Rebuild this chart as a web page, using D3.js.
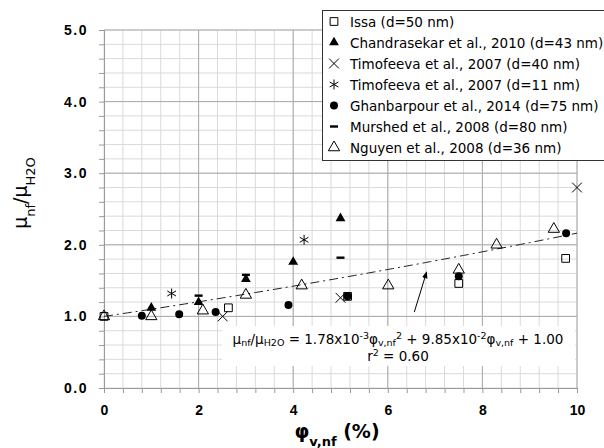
<!doctype html>
<html lang="en">
<head>
<meta charset="utf-8">
<title>Relative viscosity vs volume fraction</title>
<script src="https://cdn.jsdelivr.net/npm/d3@7"></script>
<style>
  body { margin: 0; background: #fff; }
  svg { font-family: "DejaVu Sans", Verdana, sans-serif; }
  .axis path, .axis line { stroke: #999; }
  .axis text { font-weight: bold; font-size: 14px; fill: #000; }
</style>
</head>
<body>
<svg width="604" height="448"></svg>
<script>
// series: [phi (%), mu_nf / mu_H2O]
var issa        = [[0, 1.0], [2.63, 1.12], [5.15, 1.28], [7.5, 1.46], [9.76, 1.81]];
var chandra     = [[1, 1.12], [2, 1.2], [3, 1.52], [4, 1.76], [5, 2.37]];
var timo40      = [[2.51, 1.0], [5.0, 1.26], [10.0, 2.80]];
var timo11      = [[1.43, 1.32], [4.23, 2.07]];
var ghanbar     = [[0.8, 1.01], [1.59, 1.03], [2.36, 1.06], [3.9, 1.16], [5.15, 1.28], [7.5, 1.56], [9.77, 2.16]];
var murshed     = [[2, 1.29], [3, 1.58], [5, 1.82]];
var nguyen      = [[0, 1.0], [1, 1.0], [2.09, 1.08], [3.0, 1.30], [4.18, 1.43], [6.01, 1.43], [7.5, 1.65], [8.3, 2.0], [9.51, 2.22]];

var legendLabels = [
  "Issa (d=50 nm)",
  "Chandrasekar et al., 2010 (d=43 nm)",
  "Timofeeva et al., 2007 (d=40 nm)",
  "Timofeeva et al., 2007 (d=11 nm)",
  "Ghanbarpour et al., 2014 (d=75 nm)",
  "Murshed et al., 2008 (d=80 nm)",
  "Nguyen et al., 2008 (d=36 nm)"
];

// trend: mu = a*phi^2 + b*phi + c
var fitA = 1.78e-3, fitB = 9.85e-2, fitC = 1.00;
var arrowFrom = [6.56, 1.06], arrowTo = [6.82, 1.62];

var svg = d3.select("svg");
var x = d3.scaleLinear().domain([0, 10]).range([104, 577]);
var y = d3.scaleLinear().domain([0, 5]).range([388, 30]);

// grid
var grid = svg.append("g");
grid.selectAll(".vmin").data(d3.range(0, 10.01, 0.4)).enter().append("line")
  .attr("x1", d => x(d)).attr("x2", d => x(d)).attr("y1", y(0)).attr("y2", y(5))
  .attr("stroke", "#dadada");
grid.selectAll(".hmin").data(d3.range(0, 5.01, 0.2)).enter().append("line")
  .attr("x1", x(0)).attr("x2", x(10)).attr("y1", d => y(d)).attr("y2", d => y(d))
  .attr("stroke", "#dadada");
grid.selectAll(".vmaj").data(d3.range(2, 10.01, 2)).enter().append("line")
  .attr("x1", d => x(d)).attr("x2", d => x(d)).attr("y1", y(0)).attr("y2", y(5))
  .attr("stroke", "#aaa");
grid.selectAll(".hmaj").data(d3.range(1, 5.01, 1)).enter().append("line")
  .attr("x1", x(0)).attr("x2", x(10)).attr("y1", d => y(d)).attr("y2", d => y(d))
  .attr("stroke", "#aaa");

// axes
svg.append("g").attr("class", "axis").attr("transform", "translate(0," + y(0) + ")")
  .call(d3.axisBottom(x).tickValues(d3.range(0, 10.01, 0.4)).tickSizeOuter(0).tickSize(5).tickPadding(12)
    .tickFormat(d => (Math.abs(d / 2 - Math.round(d / 2)) < 1e-6) ? d3.format("d")(Math.round(d)) : ""));
svg.append("g").attr("class", "axis").attr("transform", "translate(" + x(0) + ",0)")
  .call(d3.axisLeft(y).tickValues(d3.range(0, 5.01, 0.2)).tickSizeOuter(0).tickSize(5).tickPadding(11)
    .tickFormat(d => (Math.abs(d - Math.round(d)) < 1e-6) ? d3.format(".1f")(d) : ""))
  .selectAll("text").style("letter-spacing", "1.5px");

// trend line
var line = d3.line().x(d => x(d)).y(d => y(fitA * d * d + fitB * d + fitC));
svg.append("path").datum(d3.range(0, 10.001, 0.1)).attr("d", line)
  .attr("fill", "none").attr("stroke", "#222").attr("stroke-width", 1)
  .attr("stroke-dasharray", "9,4,2,4");

// marker styles
var styles = [
  { data: issa,    sym: d3.symbolSquare,   size: 60, fill: "none", stroke: "#000" },
  { data: chandra, sym: d3.symbolTriangle, size: 42, fill: "#000", stroke: "none" },
  { data: timo40,  sym: d3.symbolTimes,    size: 64, fill: "none", stroke: "#000" },
  { data: timo11,  sym: d3.symbolAsterisk, size: 70, fill: "none", stroke: "#000" },
  { data: ghanbar, sym: d3.symbolCircle,   size: 50, fill: "#000", stroke: "none" },
  { data: murshed, sym: "dash" },
  { data: nguyen,  sym: d3.symbolTriangle, size: 55, fill: "none", stroke: "#000" }
];

function drawMarker(g, s) {
  if (s.sym === "dash") {
    g.append("rect").attr("x", -4).attr("y", -1.2).attr("width", 8).attr("height", 2.4).attr("fill", "#000");
  } else {
    g.append("path").attr("d", d3.symbol().type(s.sym).size(s.size)())
      .attr("fill", s.fill).attr("stroke", s.stroke).attr("stroke-width", 1);
  }
}

styles.forEach(function(s) {
  s.data.forEach(function(d) {
    drawMarker(svg.append("g").attr("transform", "translate(" + x(d[0]) + "," + y(d[1]) + ")"), s);
  });
});

// arrow
svg.append("defs").append("marker").attr("id", "ah").attr("viewBox", "0 0 10 10")
  .attr("refX", 9).attr("refY", 5).attr("markerWidth", 7).attr("markerHeight", 7).attr("orient", "auto")
  .append("path").attr("d", "M0,1 L10,5 L0,9 z").attr("fill", "#000");
svg.append("line").attr("x1", x(arrowFrom[0])).attr("y1", y(arrowFrom[1]))
  .attr("x2", x(arrowTo[0])).attr("y2", y(arrowTo[1]))
  .attr("stroke", "#000").attr("marker-end", "url(#ah)");

// equation box
svg.append("rect").attr("x", 222).attr("y", 326).attr("width", 353).attr("height", 40).attr("fill", "#fff");
var eq = svg.append("text").attr("x", 398).attr("y", 344).attr("text-anchor", "middle")
  .style("font-size", "13.5px");
function part(t, txt, kind) {
  var ts = t.append("tspan").text(txt);
  if (kind === "sub") ts.attr("baseline-shift", "-2").style("font-size", "9.5px");
  if (kind === "sup") ts.attr("baseline-shift", "5").style("font-size", "9.5px");
}
[["μ"], ["nf", "sub"], ["/μ"], ["H2O", "sub"], [" = 1.78x10"], ["-3", "sup"], ["φ"], ["v,nf", "sub"], ["2", "sup"],
 [" + 9.85x10"], ["-2", "sup"], ["φ"], ["v,nf", "sub"], [" + 1.00"]].forEach(p => part(eq, p[0], p[1]));
var r2 = svg.append("text").attr("x", 398).attr("y", 361).attr("text-anchor", "middle").style("font-size", "13.5px");
part(r2, "r"); part(r2, "2", "sup"); part(r2, " = 0.60");

// legend
var lg = svg.append("g");
lg.append("rect").attr("x", 322.5).attr("y", 10.5).attr("width", 290).attr("height", 150)
  .attr("fill", "#fff").attr("stroke", "#333");
legendLabels.forEach(function(lab, i) {
  var yy = 21.5 + i * 21;
  drawMarker(lg.append("g").attr("transform", "translate(334," + yy + ")"), styles[i]);
  lg.append("text").attr("x", 350).attr("y", yy + 5).style("font-size", "13.5px").text(lab);
});

// axis titles
var xt = svg.append("text").attr("x", 337).attr("y", 438).attr("text-anchor", "middle")
  .style("font-weight", "bold").style("font-size", "19px");
xt.append("tspan").text("φ");
xt.append("tspan").text("v,nf").attr("baseline-shift", "sub").style("font-size", "13px");
xt.append("tspan").text(" (%)");

var yt = svg.append("text").attr("transform", "translate(27,193) rotate(-90)").attr("text-anchor", "middle")
  .style("font-size", "19px");
yt.append("tspan").text("μ");
yt.append("tspan").text("nf").attr("baseline-shift", "sub").style("font-size", "13px");
yt.append("tspan").text("/μ");
yt.append("tspan").text("H2O").attr("baseline-shift", "sub").style("font-size", "13px");
</script>
</body>
</html>
